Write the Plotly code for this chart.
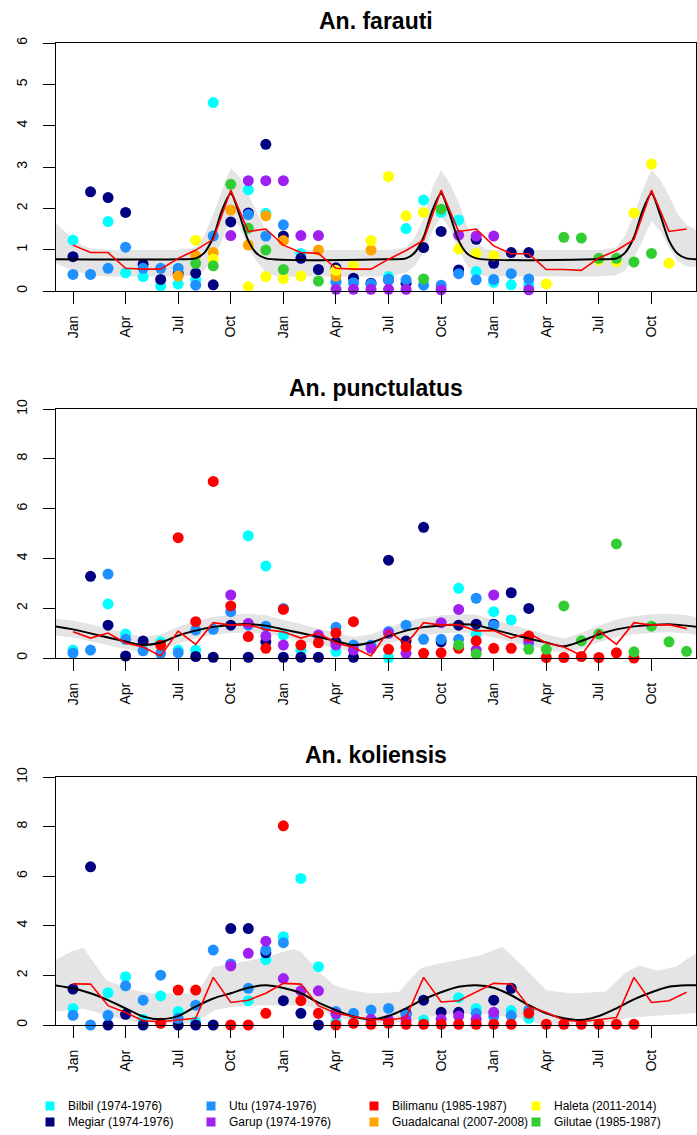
import plotly.graph_objects as go

W, H = 697, 1135
FONT = "Liberation Sans, Arial, sans-serif"

# ---------------- categories / ticks ----------------
MONTHS = list(range(1, 37))
TICK_MONTHS = [1, 4, 7, 10, 13, 16, 19, 22, 25, 28, 31, 34]
TICK_LABELS = ["Jan", "Apr", "Jul", "Oct", "Jan", "Apr", "Jul", "Oct", "Jan", "Apr", "Jul", "Oct"]

SITES = ["Bilbil (1974-1976)", "Megiar (1974-1976)", "Utu (1974-1976)", "Garup (1974-1976)",
         "Bilimanu (1985-1987)", "Guadalcanal (2007-2008)", "Haleta (2011-2014)", "Gilutae (1985-1987)"]
SITE_COLORS = ["#00FFFF", "#000080", "#1E90FF", "#A020F0", "#FF0000", "#FFA500", "#FFFF00", "#32CD32"]

TITLES = ["An. farauti", "An. punctulatus", "An. koliensis"]
Y_MAX = [6, 10, 10]
Y_TICKS = [[0, 1, 2, 3, 4, 5, 6], [0, 2, 4, 6, 8, 10], [0, 2, 4, 6, 8, 10]]

# ---------------- An. farauti: site observations {month: value} ----------------
far_bilbil = {1: 1.23, 3: 1.68, 4: 0.44, 5: 0.35, 6: 0.12, 7: 0.17, 8: 0.27, 9: 4.56, 11: 2.45, 12: 1.88,
              14: 0.91, 16: 0.2, 19: 0.35, 20: 1.51, 21: 2.2, 22: 1.9, 23: 1.72, 24: 0.47, 25: 0.21, 26: 0.15, 27: 0.15}
far_megiar = {1: 0.83, 2: 2.40, 3: 2.26, 4: 1.90, 5: 0.65, 6: 0.28, 7: 0.42, 8: 0.43, 9: 0.15, 10: 1.67,
              11: 1.89, 12: 3.55, 13: 1.33, 14: 0.79, 15: 0.52, 16: 0.56, 17: 0.31, 18: 0.19, 19: 0.27, 20: 0.19,
              21: 1.05, 22: 1.44, 23: 0.51, 24: 1.25, 25: 0.67, 26: 0.93, 27: 0.93}
far_utu = {1: 0.40, 2: 0.40, 3: 0.55, 4: 1.06, 5: 0.55, 6: 0.55, 7: 0.55, 8: 0.14, 9: 1.33, 11: 1.85, 12: 1.33,
           13: 1.6, 16: 0.23, 17: 0.2, 18: 0.17, 19: 0.27, 20: 0.27, 21: 0.14, 22: 0.14, 23: 0.42, 24: 0.27,
           25: 0.28, 26: 0.42, 27: 0.29}
far_garup = {10: 1.34, 11: 2.67, 12: 2.67, 13: 2.67, 14: 1.34, 15: 1.34, 16: 0.04, 17: 0.04, 18: 0.04, 19: 0.04,
             20: 0.04, 22: 0.03, 23: 1.35, 24: 1.33, 25: 1.33, 27: 0.03}
far_bilimanu = {}
far_guadalcanal = {7: 0.36, 8: 0.85, 9: 0.93, 10: 1.96, 11: 1.11, 12: 1.82, 13: 1.22, 15: 0.99, 16: 0.36, 18: 0.99}
far_haleta = {8: 1.23, 9: 0.77, 11: 0.1, 12: 0.35, 13: 0.3, 14: 0.36, 16: 0.5, 17: 0.62, 18: 1.22, 19: 2.77,
              20: 1.82, 21: 1.9, 23: 1.02, 24: 0.91, 25: 0.85, 28: 0.17, 31: 0.75, 32: 0.71, 33: 1.89, 34: 3.07, 35: 0.67}
far_gilutae = {8: 0.67, 9: 0.61, 10: 2.58, 11: 1.52, 12: 0.99, 13: 0.52, 15: 0.24, 21: 0.29, 22: 1.98,
               29: 1.3, 30: 1.28, 31: 0.79, 32: 0.79, 33: 0.7, 34: 0.91}

far_red = [1.11, 0.93, 0.93, 0.55, 0.53, 0.53, 0.79, 0.99, 1.25, 2.44, 1.44, 1.50,
           1.11, 0.93, 0.91, 0.55, 0.53, 0.53, 0.77, 0.98, 1.23, 2.44, 1.44, 1.50,
           1.09, 0.90, 0.90, 0.52, 0.52, 0.50, 0.80, 0.98, 1.24, 2.44, 1.44, 1.50]
far_fit_x = [0, 7, 8, 8.5, 9, 9.5, 10, 10.5, 11, 11.5, 12, 19, 20, 20.5, 21, 21.5, 22, 22.5, 23, 23.5, 24,
             31, 32, 32.5, 33, 33.5, 34, 34.5, 35, 35.5, 36, 36.54]
far_fit_y = [0.77, 0.77, 0.79, 0.93, 1.3, 1.95, 2.36, 1.84, 1.22, 0.9, 0.79, 0.77, 0.79, 0.93, 1.3, 1.95, 2.36,
             1.84, 1.22, 0.9, 0.79, 0.77, 0.79, 0.93, 1.3, 1.95, 2.36, 1.84, 1.22, 0.9, 0.79, 0.77]
far_band_x = [0.03, 0.5, 1, 1.5, 2, 3, 7, 8, 8.5, 9, 9.5, 10, 10.5, 11, 11.5, 12, 12.5, 13, 13.5, 15, 19,
              20, 20.5, 21, 21.5, 22, 22.5, 23, 23.5, 24, 24.5, 25, 27, 31,
              32, 32.5, 33, 33.5, 34, 34.5, 35, 35.5, 36, 36.54]
far_band_hi = [1.64, 1.45, 1.28, 1.12, 1.03, 0.99, 0.99, 1.05, 1.35, 1.85, 2.44, 2.97, 2.77, 2.35, 1.9, 1.45,
               1.25, 1.08, 1.0, 0.99, 0.99, 1.05, 1.3, 1.75, 2.5, 2.93, 2.6, 2.15, 1.55, 1.2, 1.03, 0.99, 0.99,
               0.99, 1.05, 1.35, 1.85, 2.44, 2.93, 2.7, 2.3, 1.85, 1.6, 1.48]
far_band_lo = [0.67, 0.58, 0.5, 0.44, 0.39, 0.35, 0.35, 0.38, 0.5, 0.8, 1.23, 1.8, 1.55, 1.05, 0.7, 0.45,
               0.37, 0.35, 0.35, 0.35, 0.35, 0.45, 0.6, 0.95, 1.45, 1.8, 1.5, 1.0, 0.6, 0.42, 0.36, 0.35, 0.35,
               0.35, 0.38, 0.5, 0.8, 1.23, 1.7, 1.45, 1.05, 0.72, 0.6, 0.58]

# ---------------- An. punctulatus ----------------
pun_bilbil = {1: 0.32, 3: 2.17, 4: 0.96, 6: 0.65, 7: 0.32, 8: 0.32, 11: 4.91, 12: 3.69, 13: 0.92, 14: 0.32,
              16: 0.26, 19: 0.02, 23: 2.8, 24: 0.96, 25: 1.86, 26: 1.53}
pun_megiar = {2: 3.28, 3: 1.32, 4: 0.08, 5: 0.68, 8: 0.06, 9: 0.03, 10: 1.32, 11: 0.03, 12: 0.65, 13: 0.03,
              14: 0.03, 15: 0.03, 16: 0.64, 17: 0.03, 19: 3.93, 20: 0.68, 21: 5.25, 22: 0.65, 23: 1.32, 24: 1.36,
              25: 1.36, 26: 2.62, 27: 1.99}
pun_utu = {1: 0.2, 2: 0.32, 3: 3.37, 4: 0.75, 5: 0.29, 6: 0.19, 7: 0.21, 8: 1.12, 9: 1.15, 10: 1.86, 11: 1.32,
           12: 1.28, 13: 1.99, 16: 1.23, 17: 0.52, 18: 0.51, 19: 1.06, 20: 1.32, 21: 0.75, 22: 0.75, 23: 0.75,
           24: 2.4, 25: 1.32, 27: 0.6}
pun_garup = {10: 2.53, 11: 1.39, 12: 0.88, 13: 0.52, 15: 0.92, 16: 0.52, 17: 0.32, 18: 0.39, 19: 0.99, 20: 0.19,
             22: 1.42, 23: 1.95, 24: 0.32, 25: 2.53, 27: 0.72}
pun_bilimanu = {6: 0.52, 7: 4.83, 8: 1.46, 9: 7.09, 10: 2.09, 11: 0.86, 12: 0.39, 13: 1.95, 14: 0.52, 15: 0.61,
                16: 1.0, 17: 1.46, 19: 0.35, 20: 0.45, 21: 0.19, 22: 0.21, 23: 0.39, 24: 0.69, 25: 0.39, 26: 0.39,
                27: 0.88, 28: 0.02, 29: 0.02, 30: 0.06, 31: 0.02, 32: 0.21, 33: 0.0}
pun_guadalcanal = {}
pun_haleta = {}
pun_gilutae = {23: 0.52, 24: 0.16, 27: 0.35, 28: 0.35, 29: 2.09, 30: 0.69, 31: 0.96, 32: 4.58, 33: 0.25,
               34: 1.28, 35: 0.65, 36: 0.27}

pun_red = [1.05, 0.80, 1.00, 0.60, 0.44, 0.08, 1.08, 0.55, 1.42, 1.32, 1.34, 1.14,
           1.05, 0.80, 1.00, 0.60, 0.42, 0.08, 1.09, 0.55, 1.42, 1.32, 1.34, 1.09,
           1.10, 0.80, 1.00, 0.60, 0.44, 0.10, 1.09, 0.55, 1.42, 1.32, 1.34, 1.18]
pun_fit_x = [0, 1, 2, 3, 4, 5, 6, 7, 8, 9, 10, 11, 12, 13, 14, 15, 16, 17, 18, 19, 20, 21, 22, 23, 24, 25,
             26, 27, 28, 29, 30, 31, 32, 33, 34, 35, 36, 36.54]
pun_fit_y = [1.27, 1.15, 0.99, 0.82, 0.66, 0.52, 0.62, 0.9, 1.1, 1.25, 1.33, 1.36, 1.3, 1.15, 1.0, 0.84, 0.68,
             0.52, 0.62, 0.88, 1.1, 1.24, 1.31, 1.35, 1.32, 1.14, 0.96, 0.78, 0.62, 0.47, 0.68, 0.95, 1.15,
             1.27, 1.33, 1.36, 1.3, 1.25]
pun_band_hi = [1.58, 1.5, 1.36, 1.18, 1.0, 0.84, 0.95, 1.25, 1.48, 1.65, 1.75, 1.78, 1.72, 1.55, 1.38, 1.18,
               1.0, 0.84, 0.95, 1.22, 1.48, 1.62, 1.72, 1.76, 1.74, 1.54, 1.34, 1.12, 0.94, 0.78, 1.0, 1.3,
               1.55, 1.68, 1.76, 1.78, 1.72, 1.65]
pun_band_lo = [0.9, 0.82, 0.68, 0.52, 0.36, 0.24, 0.32, 0.58, 0.78, 0.93, 1.0, 1.03, 0.98, 0.83, 0.68, 0.53,
               0.38, 0.24, 0.32, 0.56, 0.78, 0.92, 0.99, 1.02, 0.99, 0.82, 0.64, 0.47, 0.33, 0.2, 0.38, 0.63,
               0.83, 0.95, 1.0, 1.03, 0.98, 0.92]

# ---------------- An. koliensis ----------------
kol_bilbil = {1: 0.67, 3: 1.3, 4: 1.95, 5: 0.23, 6: 1.17, 7: 0.54, 8: 0.13, 11: 0.98, 12: 2.64, 13: 3.56,
              14: 5.91, 15: 2.35, 16: 0.13, 21: 0.2, 23: 1.1, 24: 0.67, 26: 0.58, 27: 0.27}
kol_megiar = {1: 1.45, 2: 6.38, 3: 0.0, 4: 0.43, 5: 0.0, 7: 0.0, 8: 0.0, 9: 0.0, 10: 3.89, 11: 3.89, 12: 2.91,
              13: 0.98, 14: 0.47, 15: 0.0, 20: 0.47, 21: 1.0, 22: 0.51, 23: 0.51, 25: 1.0, 26: 1.48}
kol_utu = {1: 0.39, 2: 0.0, 3: 0.39, 4: 1.58, 5: 1.0, 6: 2.01, 7: 0.27, 8: 0.8, 9: 3.02, 10: 2.46, 11: 1.48,
           12: 3.02, 13: 3.32, 16: 0.54, 17: 0.47, 18: 0.6, 19: 0.67, 20: 0.4, 24: 0.47, 25: 0.34, 26: 0.38, 27: 0.6}
kol_garup = {10: 2.38, 11: 2.89, 12: 3.38, 13: 1.87, 14: 1.38, 15: 1.38, 16: 0.44, 18: 0.23, 19: 0.2, 20: 0.2,
             22: 0.23, 23: 0.36, 24: 0.23, 25: 0.51}
kol_bilimanu = {6: 0.07, 7: 1.41, 8: 1.41, 10: 0.0, 11: 0.0, 12: 0.47, 13: 8.03, 14: 0.98, 15: 0.47, 16: 0.0,
                17: 0.07, 18: 0.03, 19: 0.07, 20: 0.03, 21: 0.03, 22: 0.03, 23: 0.03, 24: 0.03, 25: 0.03,
                26: 0.03, 27: 0.47, 28: 0.03, 29: 0.03, 30: 0.03, 31: 0.03, 32: 0.03, 33: 0.03}
kol_guadalcanal = {}
kol_haleta = {}
kol_gilutae = {}

kol_red = [1.66, 1.65, 0.78, 0.50, 0.17, 0.13, 0.20, 0.27, 1.92, 0.91, 1.00, 1.28,
           1.68, 1.65, 0.78, 0.47, 0.34, 0.23, 0.20, 0.30, 1.92, 0.93, 0.98, 1.32,
           1.68, 1.65, 0.74, 0.50, 0.20, 0.13, 0.20, 0.30, 1.92, 0.91, 0.98, 1.32]
kol_fit_x = [0, 1, 2, 3, 4, 5, 6, 7, 8, 9, 10, 11, 12, 13, 14, 15, 16, 17, 18, 19, 20, 21, 22, 23, 24, 25,
             26, 27, 28, 29, 30, 31, 32, 33, 34, 35, 36, 36.54]
kol_fit_y = [1.6, 1.48, 1.28, 1.0, 0.67, 0.34, 0.23, 0.36, 0.74, 1.07, 1.28, 1.5, 1.6, 1.49, 1.28, 0.9, 0.6,
             0.34, 0.23, 0.36, 0.67, 1.03, 1.32, 1.54, 1.6, 1.5, 1.2, 0.8, 0.47, 0.27, 0.2, 0.36, 0.67, 1.03,
             1.32, 1.54, 1.6, 1.6]
kol_band_hi_x = [0.03, 0.9, 1.6, 2.9, 4.5, 5.4, 7.5, 8.2, 9.0, 10.2, 12.1, 13.0, 13.6, 14.0, 15.1, 15.9, 16.8,
                 18.1, 19.6, 20.8, 21.9, 22.9, 24.2, 25.5, 26.7, 28.0, 29.5, 31.4, 32.5, 33.3, 34.3, 35.4, 36.54]
kol_band_hi = [2.62, 2.96, 3.1, 1.8, 1.4, 1.27, 1.27, 1.4, 2.35, 2.48, 2.75, 2.95, 3.05, 2.95, 2.1, 1.6, 1.4,
               1.27, 1.33, 2.28, 2.48, 2.6, 2.8, 3.15, 2.35, 1.4, 1.27, 1.35, 2.1, 2.4, 2.2, 2.35, 2.9]
kol_band_lo_x = [0.03, 1.6, 3.1, 4.5, 6.0, 7.5, 8.3, 9.2, 10.2, 12.1, 14.0, 14.9, 15.9, 16.2, 18.1, 20.0, 21.0,
                 21.9, 24.0, 25.0, 26.5, 27.5, 29.5, 31.4, 32.6, 34.0, 36.54]
kol_band_lo = [0.54, 0.67, 0.34, 0.13, 0.07, 0.07, 0.27, 0.63, 0.74, 0.8, 0.8, 0.67, 0.36, 0.27, 0.07, 0.13,
               0.27, 0.4, 0.47, 0.4, 0.27, 0.07, 0.03, 0.1, 0.27, 0.36, 0.47]

PANELS = [
    dict(sites=[far_bilbil, far_megiar, far_utu, far_garup, far_bilimanu, far_guadalcanal, far_haleta, far_gilutae],
         red=far_red, fit_x=far_fit_x, fit_y=far_fit_y,
         band_hi_x=far_band_x, band_hi=far_band_hi, band_lo_x=far_band_x, band_lo=far_band_lo),
    dict(sites=[pun_bilbil, pun_megiar, pun_utu, pun_garup, pun_bilimanu, pun_guadalcanal, pun_haleta, pun_gilutae],
         red=pun_red, fit_x=pun_fit_x, fit_y=pun_fit_y,
         band_hi_x=pun_fit_x, band_hi=pun_band_hi, band_lo_x=pun_fit_x, band_lo=pun_band_lo),
    dict(sites=[kol_bilbil, kol_megiar, kol_utu, kol_garup, kol_bilimanu, kol_guadalcanal, kol_haleta, kol_gilutae],
         red=kol_red, fit_x=kol_fit_x, fit_y=kol_fit_y,
         band_hi_x=kol_band_hi_x, band_hi=kol_band_hi, band_lo_x=kol_band_lo_x, band_lo=kol_band_lo),
]

# ---------------- layout geometry (pixels) ----------------
PLOT_LEFT, PLOT_RIGHT = 56, 696
PANEL_TOPS = [43, 409, 777]
PANEL_BOTTOMS = [291, 658, 1025]
TITLE_Y = [21, 388, 755]
X_RANGE = [0.03, 36.54]

fig = go.Figure()
for i, p in enumerate(PANELS):
    xa = "x" if i == 0 else f"x{i+1}"
    ya = "y" if i == 0 else f"y{i+1}"
    fig.add_trace(go.Scatter(
        x=list(p["band_hi_x"]) + list(p["band_lo_x"])[::-1],
        y=list(p["band_hi"]) + list(p["band_lo"])[::-1],
        fill="toself", fillcolor="#E4E4E4", line=dict(width=0), mode="lines",
        hoverinfo="skip", showlegend=False, xaxis=xa, yaxis=ya))
    for name, col, obs in zip(SITES, SITE_COLORS, p["sites"]):
        if not obs:
            continue
        fig.add_trace(go.Scatter(
            x=list(obs.keys()), y=list(obs.values()), mode="markers", name=name,
            marker=dict(color=col, size=11, line=dict(width=0)),
            cliponaxis=False, showlegend=False, xaxis=xa, yaxis=ya))
    fig.add_trace(go.Scatter(x=p["fit_x"], y=p["fit_y"], mode="lines",
                             line=dict(color="black", width=2, shape="spline", smoothing=0.8),
                             showlegend=False, xaxis=xa, yaxis=ya))
    fig.add_trace(go.Scatter(x=MONTHS, y=p["red"], mode="lines",
                             line=dict(color="#FF0000", width=1.6),
                             showlegend=False, xaxis=xa, yaxis=ya))

axis_common = dict(showline=True, linecolor="black", linewidth=1.4, mirror=True, ticks="outside",
                   ticklen=12, tickwidth=1.4, tickcolor="black", showgrid=False, zeroline=False,
                   automargin=False, tickfont=dict(family=FONT, size=14, color="black"))

layout = dict(width=W, height=H, margin=dict(l=0, r=0, t=0, b=0, autoexpand=False),
              paper_bgcolor="white", plot_bgcolor="white", showlegend=False)
annotations = []
shapes = []
for i in range(3):
    xk = "xaxis" if i == 0 else f"xaxis{i+1}"
    yk = "yaxis" if i == 0 else f"yaxis{i+1}"
    ya = "y" if i == 0 else f"y{i+1}"
    layout[xk] = dict(axis_common, domain=[PLOT_LEFT / W, PLOT_RIGHT / W], range=X_RANGE,
                      tickmode="array", tickvals=TICK_MONTHS, ticktext=TICK_LABELS, tickangle=-90,
                      anchor=ya, ticklabelstandoff=6)
    layout[yk] = dict(axis_common, domain=[1 - PANEL_BOTTOMS[i] / H, 1 - PANEL_TOPS[i] / H],
                      range=[0, Y_MAX[i]], tickmode="array", tickvals=Y_TICKS[i], tickangle=-90,
                      anchor="x" if i == 0 else f"x{i+1}", ticklabelstandoff=10)
    annotations.append(dict(text="<b>" + TITLES[i] + "</b>", xref="paper", yref="paper",
                            x=(PLOT_LEFT + PLOT_RIGHT) / 2 / W, y=1 - TITLE_Y[i] / H,
                            xanchor="center", yanchor="middle", showarrow=False,
                            font=dict(family=FONT, size=23, color="black")))

# ---------------- manual legend (2 rows x 4 columns) ----------------
LEG_ORDER = [0, 2, 4, 6, 1, 3, 5, 7]
LEG_COL_X = [50, 211, 374, 536]
LEG_ROW_Y = [1106, 1122]
for k, si in enumerate(LEG_ORDER):
    cx = LEG_COL_X[k % 4]
    cy = LEG_ROW_Y[k // 4]
    shapes.append(dict(type="rect", xref="paper", yref="paper",
                       x0=(cx - 4.5) / W, x1=(cx + 4.5) / W, y0=1 - (cy + 4.5) / H, y1=1 - (cy - 4.5) / H,
                       fillcolor=SITE_COLORS[si], line=dict(width=0)))
    annotations.append(dict(text=SITES[si], xref="paper", yref="paper", x=(cx + 16) / W, y=1 - cy / H,
                            xanchor="left", yanchor="middle", showarrow=False,
                            font=dict(family=FONT, size=12, color="black")))

layout["annotations"] = annotations
layout["shapes"] = shapes
fig.update_layout(**layout)
fig.write_html("out.html", config={"displayModeBar": False},
               post_script="document.documentElement.style.margin='0';document.body.style.margin='0';"
                           "document.body.style.padding='0';document.body.style.overflow='hidden';")
